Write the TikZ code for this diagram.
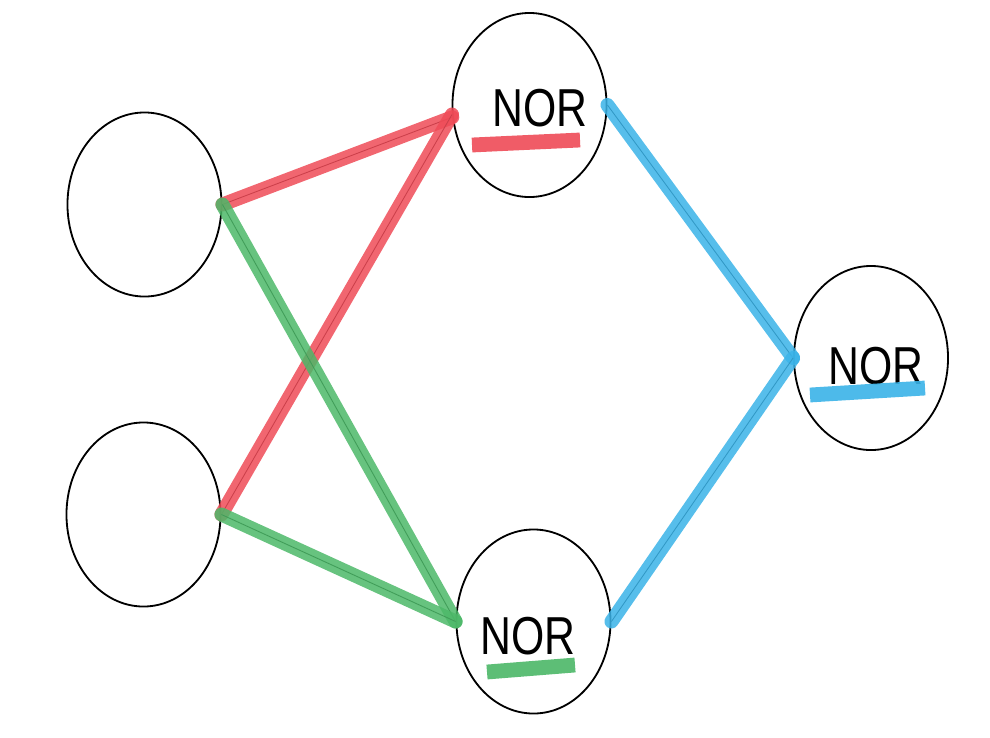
\documentclass[tikz,border=0pt]{standalone}
\usepackage{fontspec}
\setsansfont{Liberation Sans}
\usetikzlibrary{shapes.geometric}
\pgfdeclarelayer{nodelayer}
\pgfdeclarelayer{edgelayer}
\pgfsetlayers{nodelayer,edgelayer,main}
\definecolor{norred}{HTML}{EF4B57}
\definecolor{norgreen}{HTML}{4CB868}
\definecolor{norblue}{HTML}{3AB3E8}
\tikzstyle{gate style}=[fill=white, draw=black, shape=ellipse, line width=1.3pt, minimum width=3.85cm, minimum height=4.6cm, inner sep=0pt]
\tikzstyle{label style}=[fill=none, draw=none, inner sep=0pt, font=\sffamily\fontsize{38}{38}\selectfont]
\tikzstyle{wire style}=[line width=0.35cm, draw opacity=0.85, line cap=round, preaction={draw=black, line width=0.6pt, draw opacity=1}]
\tikzstyle{bar style}=[line width=0.37cm, draw opacity=0.9]
\newcommand{\gatetext}{\scalebox{0.8}[1]{NOR}}

\begin{document}
\begin{tikzpicture}[x=0.025cm, y=-0.025cm]
	\useasboundingbox (0, 0) rectangle (990, 737);
	\begin{pgfonlayer}{nodelayer}
		\node [style=gate style] (0) at (144.5, 204.5) {};
		\node [style=gate style] (1) at (143.5, 514.5) {};
		\node [style=gate style] (2) at (529.5, 105) {};
		\node [style=gate style] (3) at (533.5, 621.5) {};
		\node [style=gate style] (4) at (871, 358) {};
		\node [style=label style] (5) at (540, 108) {\gatetext};
		\node [style=label style] (6) at (528, 636) {\gatetext};
		\node [style=label style] (7) at (876, 366) {\gatetext};
	\end{pgfonlayer}
	\begin{pgfonlayer}{edgelayer}
		\draw [style=wire style, draw=norred] (0.east) to (2.189);
		\draw [style=wire style, draw=norred] (1.east) to (2.187);
		\draw [style=wire style, draw=norgreen] (0.east) to (3.west);
		\draw [style=wire style, draw=norgreen] (1.east) to (3.west);
		\draw [style=wire style, draw=norblue] (2.east) to (4.west);
		\draw [style=wire style, draw=norblue] (3.east) to (4.west);
		\draw [style=bar style, draw=norred] (472, 145) to (580, 140);
		\draw [style=bar style, draw=norgreen] (487, 672) to (575, 665);
		\draw [style=bar style, draw=norblue] (810, 395) to (925, 388);
	\end{pgfonlayer}
\end{tikzpicture}
\end{document}
